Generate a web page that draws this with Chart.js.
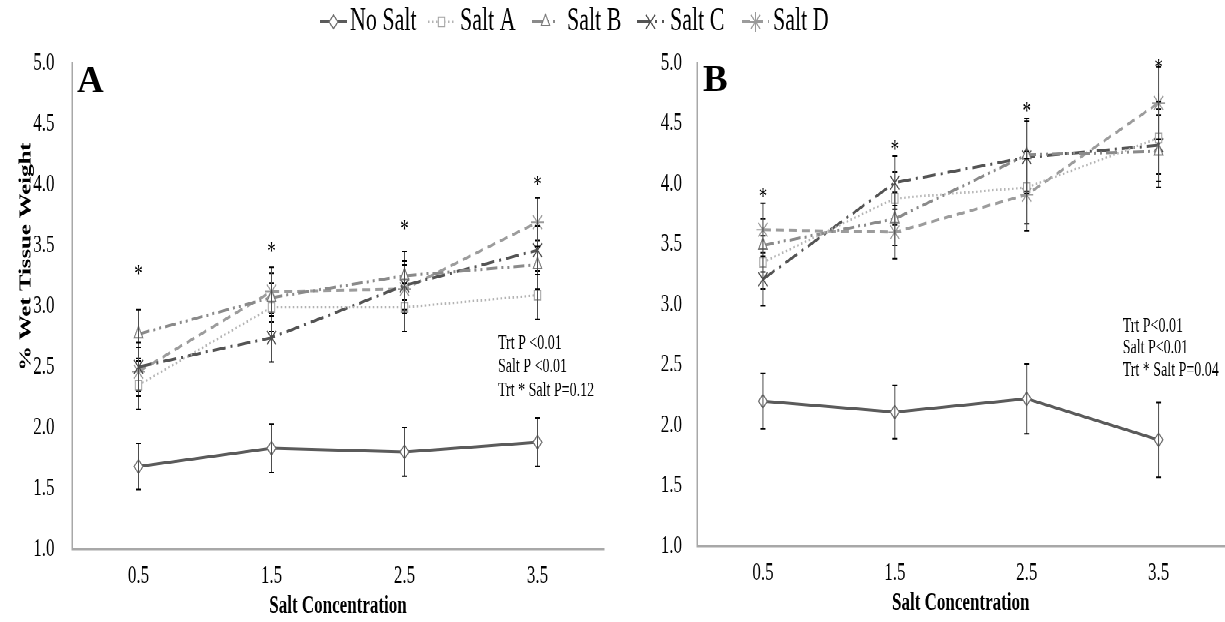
<!DOCTYPE html>
<html>
<head>
<meta charset="utf-8">
<title>% Wet Tissue Weight vs Salt Concentration</title>
<script src="https://cdn.jsdelivr.net/npm/chart.js"></script>
<style>
  html, body { margin: 0; padding: 0; background: #fff; overflow: hidden; width: 1225px; height: 622px; }
  /* the whole figure is drawn squat and stretched tall, like the printed plot */
  #fig { position: absolute; left: 0; top: 0; width: 1232px; height: 415px; transform: scaleY(1.5); transform-origin: 0 0; }
  #panelA { position: absolute; left: 0; top: 0; }
  #panelB { position: absolute; left: 620px; top: 0; }
  .tag { position: absolute; font: bold 37px 'Liberation Serif', 'Times New Roman', serif; line-height: 1; color: #000; }
</style>
</head>
<body>
<div id="fig">
  <canvas id="panelA" width="1225" height="415"></canvas>
  <canvas id="panelB" width="612" height="415"></canvas>
</div>
<div class="tag" style="left:77px;top:61px">A</div>
<div class="tag" style="left:703px;top:60px">B</div>

<script>
  const FONT = "'Liberation Serif', 'Times New Roman', serif";

  // categories and axis
  const concentrations = ['0.5', '1.5', '2.5', '3.5'];
  const seriesNames = ['No Salt', 'Salt A', 'Salt B', 'Salt C', 'Salt D'];
  const yMin = 1.0, yMax = 5.0, yStep = 0.5;

  // panel A means
  const noSaltA = [1.68, 1.83, 1.80, 1.88];
  const saltAA  = [2.35, 2.99, 2.99, 3.09];
  const saltBA  = [2.77, 3.07, 3.25, 3.34];
  const saltCA  = [2.50, 2.74, 3.17, 3.46];
  const saltDA  = [2.46, 3.12, 3.14, 3.69];
  // panel A error (±)
  const errNoSaltA = [0.19, 0.20, 0.20, 0.20];
  const errSaltA   = [0.20, 0.20, 0.20, 0.20];
  // panel A significance marks (height of the *)
  const starsA = [3.30, 3.49, 3.67, 4.04];
  const notesA = ['Trt P <0.01', 'Salt P <0.01', 'Trt * Salt P=0.12'];

  // panel B means
  const noSaltB = [2.20, 2.11, 2.22, 1.88];
  const saltAB  = [3.35, 3.88, 3.97, 4.38];
  const saltBB  = [3.49, 3.71, 4.24, 4.27];
  const saltCB  = [3.21, 4.01, 4.22, 4.32];
  const saltDB  = [3.62, 3.60, 3.91, 4.67];
  // panel B error (±)
  const errNoSaltB = [0.23, 0.22, 0.29, 0.31];
  const errSaltB   = [0.22, 0.22, 0.30, 0.30];
  const starsB = [3.93, 4.32, 4.64, 5.00];
  const notesB = ['Trt P<0.01', 'Salt P<0.01', 'Trt * Salt P=0.04'];

  // line / marker look of each series
  const styles = [
    { color: '#5b5b5b', dash: [],                   width: 2,   point: 'rectRot',  edge: '#6e6e6e', radius: 4.5 },
    { color: '#b3b3b3', dash: [1.5, 2.5],           width: 1.6, point: 'rect',     edge: '#a3a3a3', radius: 4.5 },
    { color: '#8a8a8a', dash: [11, 4, 2, 4, 2, 4],  width: 2,   point: 'triangle', edge: '#7a7a7a', radius: 5 },
    { color: '#545454', dash: [13, 5, 2, 5],        width: 2,   point: 'crossRot', edge: '#4a4a4a', radius: 6.5 },
    { color: '#9c9c9c', dash: [8, 5],               width: 2,   point: 'star',     edge: '#9a9a9a', radius: 6.5 }
  ];

  // legend slots: where each line sample and its label start
  const legendSampleX = [320, 428, 532, 637, 742];
  const legendTextX   = [350, 460, 567, 670, 773];

  function makeDatasets(values) {
    return values.map((data, i) => ({
      label: seriesNames[i],
      data: data,
      borderColor: styles[i].color,
      borderWidth: styles[i].width,
      borderDash: styles[i].dash,
      pointStyle: styles[i].point,
      pointRadius: styles[i].radius,
      pointBorderColor: styles[i].edge,
      pointBackgroundColor: '#fff',
      pointBorderWidth: 1,
      tension: 0,
      fill: false
    }));
  }

  // error bars, "*" marks and the stats notes
  function extrasPlugin(errs, stars, notes, notePos) {
    return {
      id: 'extras',
      afterDatasetsDraw(chart) {
        const { ctx, scales: { x, y } } = chart;
        ctx.save();
        chart.data.datasets.forEach((ds, i) => {
          ds.data.forEach((v, j) => {
            const px = x.getPixelForValue(j);
            const top = y.getPixelForValue(v + errs[i][j]);
            const bot = y.getPixelForValue(v - errs[i][j]);
            ctx.strokeStyle = '#4d4d4d';
            ctx.lineWidth = 1;
            ctx.beginPath();
            ctx.moveTo(px, top);
            ctx.lineTo(px, bot);
            ctx.stroke();
            ctx.strokeStyle = '#000';
            ctx.beginPath();
            ctx.moveTo(px - 2.5, top); ctx.lineTo(px + 2.5, top);
            ctx.moveTo(px - 2.5, bot); ctx.lineTo(px + 2.5, bot);
            ctx.stroke();
          });
        });

        ctx.fillStyle = '#000';
        ctx.textAlign = 'center';
        ctx.textBaseline = 'alphabetic';
        ctx.font = '17px ' + FONT;
        stars.forEach((s, j) => {
          ctx.fillText('*', x.getPixelForValue(j), y.getPixelForValue(s) + 8);
        });

        ctx.textAlign = 'left';
        ctx.textBaseline = 'middle';
        ctx.font = '14px ' + FONT;
        notes.forEach((t, k) => {
          ctx.fillText(t, notePos.x, notePos.y + k * notePos.step);
        });
        ctx.restore();
      }
    };
  }

  // y title and the shared legend, drawn on panel A's canvas
  const sharedPlugin = {
    id: 'shared',
    afterDraw(chart) {
      const ctx = chart.ctx;
      ctx.save();
      ctx.translate(26, 171);
      ctx.rotate(-Math.PI / 2);
      ctx.fillStyle = '#000';
      ctx.textAlign = 'center';
      ctx.textBaseline = 'middle';
      ctx.font = 'bold 16.5px ' + FONT;
      ctx.fillText('% Wet Tissue Weight', 0, 0);
      ctx.restore();

      ctx.save();
      ctx.font = '22px ' + FONT;
      ctx.textAlign = 'left';
      ctx.textBaseline = 'middle';
      const ly = 14.5;
      chart.data.datasets.forEach((ds, i) => {
        const lx = legendSampleX[i];
        ctx.strokeStyle = ds.borderColor;
        ctx.lineWidth = ds.borderWidth;
        ctx.setLineDash(ds.borderDash);
        ctx.beginPath();
        ctx.moveTo(lx, ly);
        ctx.lineTo(lx + 27, ly);
        ctx.stroke();
        ctx.setLineDash([]);
        ctx.fillStyle = '#fff';
        ctx.strokeStyle = ds.pointBorderColor;
        ctx.lineWidth = 1;
        Chart.helpers.drawPoint(ctx, { pointStyle: ds.pointStyle, radius: ds.pointRadius, borderWidth: 1, rotation: 0 }, lx + 13.5, ly);
        ctx.fillStyle = '#000';
        ctx.fillText(ds.label, legendTextX[i], ly - 0.5);
      });
      ctx.restore();
    }
  };

  function buildPanel(id, values, errs, stars, notes, notePos, opt) {
    const tickFont = { family: FONT, size: 17 };
    const plugins = [extrasPlugin(errs, stars, notes, notePos)];
    if (opt.shared) plugins.push(sharedPlugin);
    return new Chart(document.getElementById(id), {
      type: 'line',
      data: { labels: concentrations, datasets: makeDatasets(values) },
      plugins: plugins,
      options: {
        responsive: false,
        animation: false,
        devicePixelRatio: 2,
        events: [],
        layout: { padding: { left: 0, right: opt.padRight, top: 42, bottom: opt.padBottom } },
        plugins: { legend: { display: false }, tooltip: { enabled: false } },
        scales: {
          x: {
            type: 'category',
            offset: true,
            grid: { display: false, drawTicks: false },
            border: { display: true, color: '#a8a8a8', width: 1.3 },
            ticks: { font: tickFont, color: '#000', padding: 8 },
            title: {
              display: true,
              text: 'Salt Concentration',
              color: '#000',
              font: { family: FONT, size: 17, weight: 'bold' },
              padding: { top: 0, bottom: 0 }
            },
            afterFit(s) { s.height = 48.2; }
          },
          y: {
            min: yMin,
            max: yMax,
            grid: { display: false, drawTicks: false },
            border: { display: true, color: '#a8a8a8', width: 1.5 },
            ticks: {
              stepSize: yStep,
              font: tickFont,
              color: '#000',
              padding: opt.tickPad,
              callback: v => v.toFixed(1)
            },
            afterFit(s) { s.width = opt.axisWidth; }
          }
        }
      }
    });
  }

  buildPanel('panelA',
    [noSaltA, saltAA, saltBA, saltCA, saltDA],
    [errNoSaltA, errSaltA, errSaltA, errSaltA, errSaltA],
    starsA, notesA, { x: 498, y: 228.7, step: 15.7 },
    { shared: true, axisWidth: 72, tickPad: 17.5, padRight: 621, padBottom: 0.8 });

  buildPanel('panelB',
    [noSaltB, saltAB, saltBB, saltCB, saltDB],
    [errNoSaltB, errSaltB, errSaltB, errSaltB, errSaltB],
    starsB, notesB, { x: 502.7, y: 217.3, step: 14.7 },
    { shared: false, axisWidth: 77, tickPad: 15, padRight: 1.7, padBottom: 2.8 });
</script>
</body>
</html>
